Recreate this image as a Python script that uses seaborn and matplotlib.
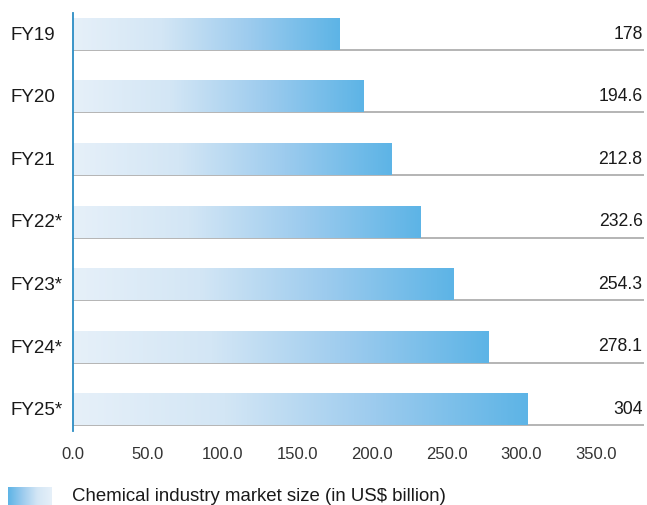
import numpy as np
import pandas as pd
import matplotlib
matplotlib.use("Agg")
import matplotlib.pyplot as plt
from matplotlib.colors import LinearSegmentedColormap
import seaborn as sns

categories = ["FY19", "FY20", "FY21", "FY22*", "FY23*", "FY24*", "FY25*"]
values = [178, 194.6, 212.8, 232.6, 254.3, 278.1, 304]
value_labels = ["178", "194.6", "212.8", "232.6", "254.3", "278.1", "304"]
xticks = [0, 50, 100, 150, 200, 250, 300, 350]
legend_label = "Chemical industry market size (in US$ billion)"

sns.set_theme(style="white")
plt.rcParams["font.family"] = ["Liberation Sans", "DejaVu Sans"]

df = pd.DataFrame({"cat": categories, "val": values})
fig = plt.figure(figsize=(6.47, 5.06), dpi=100)
ax = fig.add_axes([73/647, 1-432/506, (644-73)/647, (432-14)/506])

sns.barplot(data=df, x="val", y="cat", orient="h", ax=ax, width=0.5,
            color="white", edgecolor="none", linewidth=0)

cmap = LinearSegmentedColormap.from_list("g", ["#e6f0f9", "#d3e6f5", "#9ccbee", "#5db4e6"])
grad = np.linspace(0, 1, 256).reshape(1, -1)
for p in ax.patches:
    x0, y0 = p.get_x(), p.get_y()
    w, h = p.get_width(), p.get_height()
    ax.imshow(grad, cmap=cmap, aspect="auto", extent=[x0, x0 + w, y0 + h, y0],
              zorder=2, interpolation="bicubic")

ax.set_xlim(0, 382)
ax.set_ylim(6.34, -0.34)

for i, lab in enumerate(value_labels):
    ax.axhline(i + 0.25, color="#a8a8a8", lw=1.2, zorder=1)
    ax.text(381, i - 0.02, lab, ha="right", va="center", fontsize=12.7, color="#1a1a1a")

ax.set_xticks(xticks)
ax.set_xticklabels([f"{t:.1f}" for t in xticks], fontsize=12, color="#333333")
ax.set_yticks(range(len(categories)))
ax.set_yticklabels([])
ytr = ax.get_yaxis_transform()
for i, c in enumerate(categories):
    ax.text((10 - 73) / 571, i, c, ha="left", va="center", fontsize=13.5,
            color="#1a1a1a", transform=ytr)
ax.tick_params(axis="x", length=0, pad=11)
ax.tick_params(axis="y", length=0)
ax.set_xlabel("")
ax.set_ylabel("")
for s in ["top", "right", "bottom"]:
    ax.spines[s].set_visible(False)
ax.spines["left"].set_color("#2b8cc4")
ax.spines["left"].set_linewidth(1.3)

# legend
lax = fig.add_axes([8/647, 1-506/506, 44/647, 18/506])
lax.imshow(grad[:, ::-1], cmap=cmap, aspect="auto", interpolation="bicubic")
lax.axis("off")
fig.text(72/647, 1-497/506, legend_label, ha="left", va="center", fontsize=13.4, color="#1a1a1a")

fig.savefig("out.png", dpi=100)
